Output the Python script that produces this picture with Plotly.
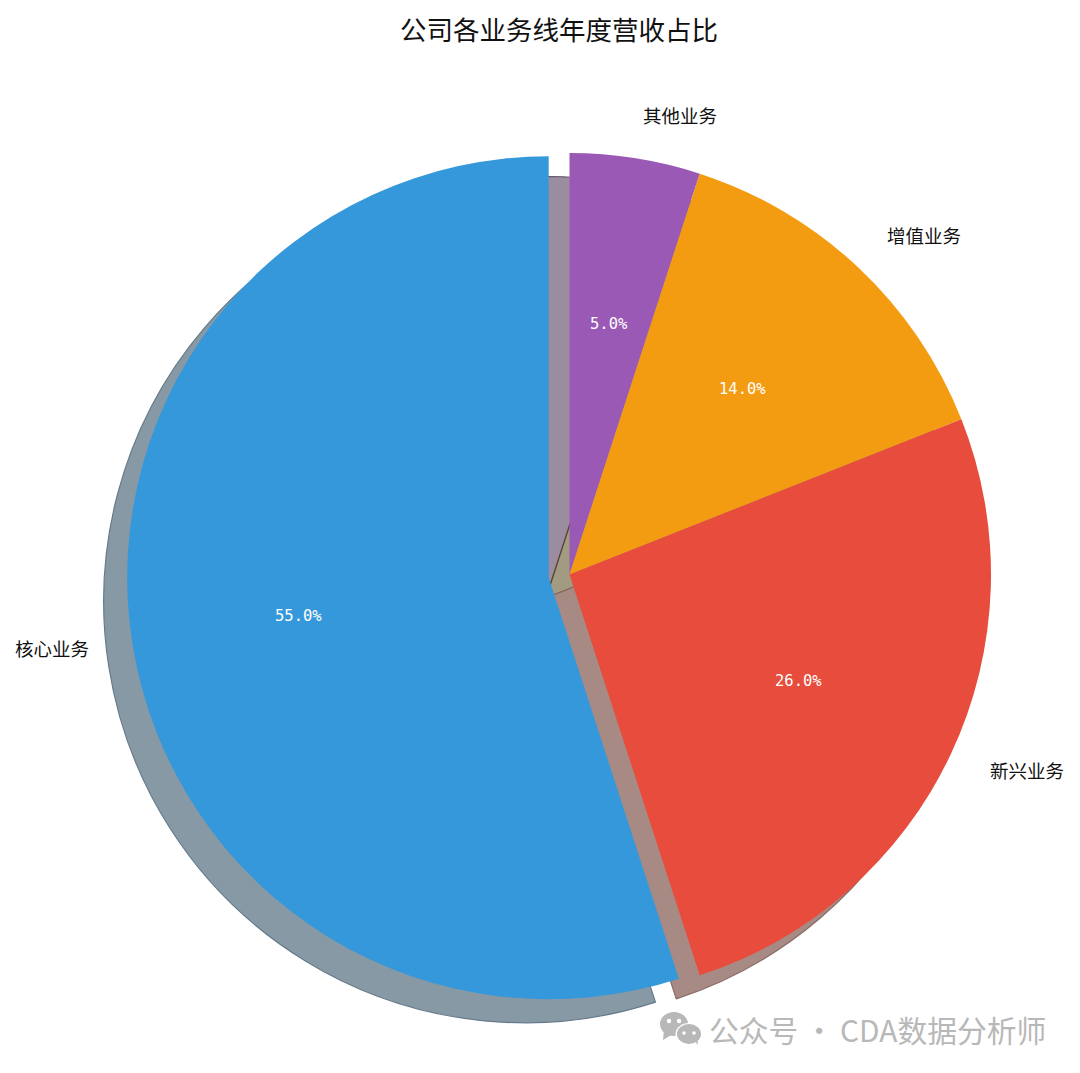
import numpy as np
import plotly.graph_objects as go

# clockwise from twelve o'clock
labels = ['其他业务', '增值业务', '新兴业务', '核心业务']
shares = [5, 14, 26, 55]
explode = [0, 0, 0, 0.05]
colors = ['#9b59b6', '#f39c12', '#e74c3c', '#3498db']
shadow_colors = ['#9b8d9f', '#a39a82', '#a78a84', '#8899a6']
shadow_edges = ['#5f4f68', '#54442c', '#8a6a66', '#657b8b']

W, H = 1080, 1073
PAGE = 8  # the browser's body margin sits around the plot
CX, CY, R = 569.5, 574.5, 421.5
SHADOW = 23.5
CJK = 'Noto Sans CJK SC'
PLOT_W, PLOT_H = W - 2 * PAGE, H - 2 * PAGE


def px_x(x):
    return (x - PAGE) / PLOT_W


def px_y(y):
    return 1 - (y - PAGE) / PLOT_H


def domain(dx=0, dy=0):
    # plotly shrinks the pie to leave room for the pull
    half = R * (1 + max(explode))
    return dict(x=[px_x(CX + dx - half), px_x(CX + dx + half)],
                y=[px_y(CY + dy + half), px_y(CY + dy - half)])


fig = go.Figure()

# matplotlib style shadow: same pie, shifted down left, underneath
fig.add_trace(go.Pie(
    labels=labels, values=shares, pull=explode, sort=False,
    direction='clockwise', rotation=0,
    domain=domain(-SHADOW, SHADOW),
    marker=dict(colors=shadow_colors, line=dict(color=shadow_edges, width=1.2)),
    textinfo='none', hoverinfo='skip', showlegend=False,
))

fig.add_trace(go.Pie(
    labels=labels, values=shares, pull=explode, sort=False,
    direction='clockwise', rotation=0,
    domain=domain(),
    marker=dict(colors=colors, line=dict(width=0)),
    textinfo='none', showlegend=False,
))

annotations = []
total = sum(shares)
start = 90.0
for name, val, pull in zip(labels, shares, explode):
    mid = np.radians(start - 180 * val / total)
    start -= 360 * val / total
    ox = CX + pull * R * np.cos(mid)
    oy = CY - pull * R * np.sin(mid)
    right_side = np.cos(mid) > 0
    lx = ox + 1.1 * R * np.cos(mid) - (1.5 if right_side else -0.5)
    ly = oy - 1.1 * R * np.sin(mid) - 2
    annotations.append(dict(
        x=px_x(lx), y=px_y(ly), xref='paper', yref='paper', text=name,
        showarrow=False, xanchor='left' if right_side else 'right',
        yanchor='middle', font=dict(family=CJK, size=18.5, color='#111111'),
    ))
    annotations.append(dict(
        x=px_x(ox + 0.6 * R * np.cos(mid)), y=px_y(oy - 0.6 * R * np.sin(mid) - 1),
        xref='paper', yref='paper', text=f'{val / total * 100:.1f}%',
        showarrow=False, xanchor='center', yanchor='middle',
        font=dict(family='DejaVu Sans Mono', size=15.5, color='#ffffff'),
    ))

annotations.append(dict(
    x=px_x(559), y=px_y(29), xref='paper', yref='paper', text='公司各业务线年度营收占比',
    showarrow=False, xanchor='center', yanchor='middle',
    font=dict(family=CJK, size=26.5, color='#111111'),
))
annotations.append(dict(
    x=px_x(707), y=px_y(1029), xref='paper', yref='paper', text='公众号\u2009·\u2009CDA数据分析师',
    showarrow=False, xanchor='left', yanchor='middle',
    font=dict(family=CJK, size=29.8, color='#b8b8b8'),
))


def blob(x, y, rx, ry, color):
    return dict(type='circle', xref='paper', yref='paper', layer='above',
                x0=px_x(x - rx), x1=px_x(x + rx), y0=px_y(y + ry), y1=px_y(y - ry),
                fillcolor=color, line=dict(width=0))


def tail(points, color):
    path = 'M ' + ' L '.join(f'{px_x(a):.4f},{px_y(b):.4f}' for a, b in points) + ' Z'
    return dict(type='path', xref='paper', yref='paper', layer='above', path=path,
                fillcolor=color, line=dict(width=0))


# wechat mark next to the watermark
GREY = '#b8b8b8'
shapes = [
    blob(674, 1024, 14, 12, GREY),
    tail([(664, 1030), (663, 1040), (673, 1034)], GREY),
    blob(689, 1034, 13.5, 11, '#ffffff'),
    blob(689, 1034, 12, 10, GREY),
    tail([(694, 1040), (698, 1045), (697, 1036)], GREY),
    blob(669, 1021, 2.2, 2.2, '#ffffff'),
    blob(679, 1021, 2.2, 2.2, '#ffffff'),
    blob(684, 1033, 1.8, 1.8, '#ffffff'),
    blob(694, 1033, 1.8, 1.8, '#ffffff'),
]

fig.update_layout(
    width=PLOT_W, height=PLOT_H,
    margin=dict(l=0, r=0, t=0, b=0),
    paper_bgcolor='white',
    annotations=annotations,
    shapes=shapes,
)

fig.write_html("out.html")
